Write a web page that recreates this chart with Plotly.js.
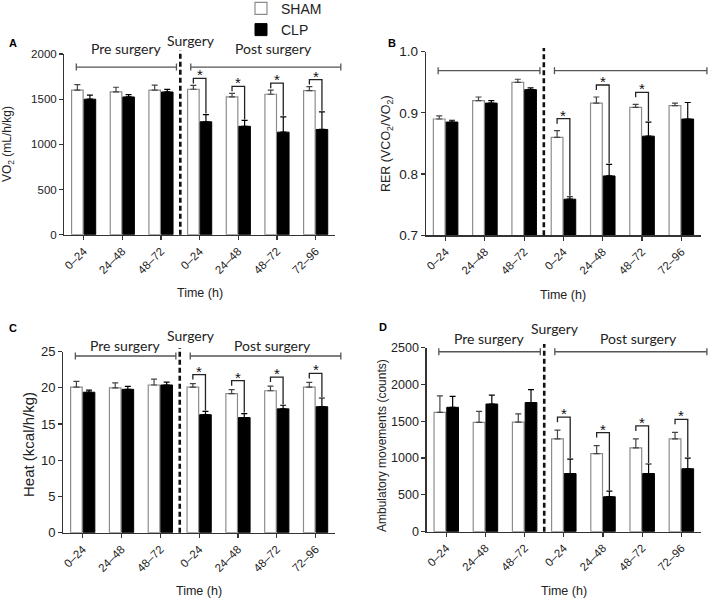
<!DOCTYPE html>
<html>
<head>
<meta charset="utf-8">
<script src="https://cdn.plot.ly/plotly-3.0.1.min.js"></script>
<style>
  html, body { margin: 0; padding: 0; background: #fff; }
  #fig { width: 709px; height: 599px; }
</style>
</head>
<body>
<div id="fig"></div>
<script>
// time windows (pre surgery x3, post surgery x4)
const groupIdx = [0, 1, 2, 3, 4, 5, 6];
const timeLabels = ['0–24', '24–48', '48–72', '0–24', '24–48', '48–72', '72–96'];
const preGroups = [0, 1, 2];
const postGroups = [3, 4, 5, 6];

// A: VO2 (mL/h/kg), mean and SEM
const vo2Sham = [1600, 1580, 1600, 1610, 1525, 1555, 1595];
const vo2ShamSem = [62, 52, 55, 42, 40, 45, 45];
const vo2Clp = [1500, 1525, 1580, 1250, 1200, 1135, 1165];
const vo2ClpSem = [45, 25, 28, 80, 65, 170, 195];
const vo2Sig = [3, 4, 5, 6];

// B: RER
const rerSham = [0.890, 0.920, 0.950, 0.860, 0.916, 0.909, 0.912];
const rerShamSem = [0.005, 0.006, 0.005, 0.011, 0.010, 0.005, 0.004];
const rerClp = [0.885, 0.916, 0.938, 0.759, 0.797, 0.862, 0.890];
const rerClpSem = [0.003, 0.004, 0.003, 0.004, 0.019, 0.023, 0.027];
const rerSig = [3, 4, 5];

// C: heat (kcal/h/kg)
const heatSham = [20.1, 20.0, 20.4, 20.1, 19.2, 19.6, 20.1];
const heatShamSem = [0.8, 0.7, 0.8, 0.5, 0.55, 0.65, 0.65];
const heatClp = [19.4, 19.8, 20.4, 16.3, 15.9, 17.1, 17.4];
const heatClpSem = [0.3, 0.4, 0.4, 0.45, 0.55, 0.5, 1.2];
const heatSig = [3, 4, 5, 6];

// D: ambulatory movements (counts)
const ambSham = [1620, 1485, 1490, 1260, 1060, 1140, 1260];
const ambShamSem = [225, 150, 110, 120, 110, 120, 90];
const ambClp = [1690, 1735, 1755, 790, 475, 790, 855];
const ambClpSem = [150, 120, 175, 195, 75, 130, 145];
const ambSig = [3, 4, 5, 6];

const W = 709, H = 599;
const FONT = 'Arial, Liberation Sans, sans-serif';
const BARGAP = 0.35;

const panels = [
  { letter: 'A', sham: vo2Sham, shamSem: vo2ShamSem, clp: vo2Clp, clpSem: vo2ClpSem, sig: vo2Sig,
    xdom: [0.0907, 0.4725], ydom: [0.6082, 0.9098], yrange: [0, 2000], dtick: 500, tickfmt: '',
    ytickSize: 11.5, title: 'VO<sub>2</sub> (mL/h/kg)', titleSize: 12, titleX: 8, titleY: 144,
    timeY: 293, letterXY: [13, 43], periodY: 0.928, periodText: true, preTextY: 1.028, surgTextY: 1.077,
    sigPad: 7 },
  { letter: 'B', sham: rerSham, shamSem: rerShamSem, clp: rerClp, clpSem: rerClpSem, sig: rerSig,
    xdom: [0.6008, 0.9887], ydom: [0.6072, 0.9137], yrange: [0.7, 1.0], dtick: 0.1, tickfmt: '.1f',
    ytickSize: 13.5, title: 'RER (VCO<sub>2</sub>/VO<sub>2</sub>)', titleSize: 12.5, titleX: 387, titleY: 144,
    timeY: 295, letterXY: [392, 43], periodY: 0.8965, periodText: false,
    sigPad: 12 },
  { letter: 'C', sham: heatSham, shamSem: heatShamSem, clp: heatClp, clpSem: heatClpSem, sig: heatSig,
    xdom: [0.0893, 0.4725], ydom: [0.1107, 0.4129], yrange: [0, 25], dtick: 5, tickfmt: '',
    ytickSize: 13, title: 'Heat (kcal/h/kg)', titleSize: 15, titleX: 28, titleY: 445,
    timeY: 591, letterXY: [13, 328], periodY: 0.976, periodText: true, preTextY: 1.033, surgTextY: 1.088,
    sigPad: 9 },
  { letter: 'D', sham: ambSham, shamSem: ambShamSem, clp: ambClp, clpSem: ambClpSem, sig: ambSig,
    xdom: [0.6018, 0.9887], ydom: [0.1124, 0.4195], yrange: [0, 2500], dtick: 500, tickfmt: '',
    ytickSize: 12.5, title: 'Ambulatory movements (counts)', titleSize: 12, titleX: 382, titleY: 446,
    timeY: 591, letterXY: [383, 327], periodY: 0.978, periodText: true, preTextY: 1.051, surgTextY: 1.105,
    sigPad: 13 }
];

const traces = [];
const shapes = [];
const annotations = [];
const layout = {
  width: W, height: H,
  margin: { l: 0, r: 0, t: 0, b: 0, autoexpand: false },
  paper_bgcolor: '#fff', plot_bgcolor: 'rgba(0,0,0,0)',
  barmode: 'group', bargap: BARGAP, bargroupgap: 0.08,
  font: { family: FONT, color: '#222' },
  showlegend: true,
  legend: {
    x: 241 / W, y: 1.012, xanchor: 'left', yanchor: 'top',
    font: { family: FONT, size: 14, color: '#222' },
    bgcolor: 'rgba(0,0,0,0)', tracegroupgap: 0
  }
};

const nGroups = groupIdx.length;
const toDomX = c => (c + 0.5) / nGroups;
const off = (1 - BARGAP) / 4;   // centre of each bar inside its group

panels.forEach((p, k) => {
  const n = k === 0 ? '' : String(k + 1);
  const xa = 'x' + n, ya = 'y' + n;
  const plotH = (p.ydom[1] - p.ydom[0]) * H;
  const d = px => px * (p.yrange[1] - p.yrange[0]) / plotH;   // px -> data units

  traces.push({
    type: 'bar', name: 'SHAM', x: groupIdx, y: p.sham, xaxis: xa, yaxis: ya,
    legendgroup: 'sham', showlegend: k === 0,
    marker: { color: '#ffffff', line: { color: '#8c8c8c', width: 1.2 } },
    error_y: { type: 'data', symmetric: false, array: p.shamSem, arrayminus: p.shamSem.map(() => 0),
               color: '#444', thickness: 1.2, width: 3 },
    hoverinfo: 'skip'
  });
  traces.push({
    type: 'bar', name: 'CLP', x: groupIdx, y: p.clp, xaxis: xa, yaxis: ya,
    legendgroup: 'clp', showlegend: k === 0,
    marker: { color: '#000000', line: { color: '#000000', width: 1 } },
    error_y: { type: 'data', symmetric: false, array: p.clpSem, arrayminus: p.clpSem.map(() => 0),
               color: '#000', thickness: 1.2, width: 3 },
    hoverinfo: 'skip'
  });

  layout['xaxis' + n] = {
    domain: p.xdom, anchor: ya, range: [-0.5, nGroups - 0.5], fixedrange: true,
    tickmode: 'array', tickvals: groupIdx, ticktext: timeLabels, tickangle: -45,
    tickfont: { family: FONT, size: 11.5, color: '#222' },
    ticks: 'outside', ticklen: 4, tickwidth: 1.2, tickcolor: '#333',
    showline: true, linecolor: '#333', linewidth: 1.3, showgrid: false, zeroline: false
  };
  layout['yaxis' + n] = {
    domain: p.ydom, anchor: xa, range: p.yrange, dtick: p.dtick, tick0: p.yrange[0], fixedrange: true,
    tickformat: p.tickfmt, tickfont: { family: FONT, size: p.ytickSize, color: '#222' },
    ticks: 'outside', ticklen: 4, tickwidth: 1.2, tickcolor: '#333',
    showline: true, linecolor: '#333', linewidth: 1.3, showgrid: false, zeroline: false
  };

  // surgery divider between the last pre and first post window
  const cut = (preGroups[preGroups.length - 1] + postGroups[0]) / 2;
  shapes.push({ type: 'line', xref: xa, yref: ya + ' domain', x0: cut, x1: cut, y0: 0, y1: 1.02,
                line: { color: '#111', width: 2.6, dash: '5px,3px' } });

  // pre / post surgery span brackets
  const spans = [[preGroups[0] - 0.19, preGroups[preGroups.length - 1] + 0.4],
                 [postGroups[0] - 0.23, postGroups[postGroups.length - 1] + 0.65]];
  const cap = 3.5 / plotH;
  spans.forEach(([a, b]) => {
    const style = { color: '#555', width: 1.3 };
    shapes.push({ type: 'line', xref: xa + ' domain', yref: ya + ' domain',
                  x0: toDomX(a), x1: toDomX(b), y0: p.periodY, y1: p.periodY, line: style });
    [a, b].forEach(c => shapes.push({ type: 'line', xref: xa + ' domain', yref: ya + ' domain',
                  x0: toDomX(c), x1: toDomX(c), y0: p.periodY - cap, y1: p.periodY + cap, line: style }));
  });

  if (p.periodText) {
    const txt = { family: 'Lato, Open Sans, sans-serif', size: 14, color: '#222' };
    annotations.push({ text: 'Pre surgery', xref: xa, yref: ya + ' domain', x: 1.1, y: p.preTextY,
                       showarrow: false, font: txt, yanchor: 'middle' });
    annotations.push({ text: 'Surgery', xref: xa, yref: ya + ' domain', x: 2.78, y: p.surgTextY,
                       showarrow: false, font: txt, yanchor: 'middle' });
    annotations.push({ text: 'Post surgery', xref: xa, yref: ya + ' domain', x: 4.9, y: p.preTextY,
                       showarrow: false, font: txt, yanchor: 'middle' });
  }

  // significance brackets SHAM vs CLP
  p.sig.forEach(i => {
    const shamTop = p.sham[i] + p.shamSem[i];
    const clpTop = p.clp[i] + p.clpSem[i];
    const top = Math.max(shamTop, clpTop) + d(p.sigPad);
    shapes.push({ type: 'path', xref: xa, yref: ya,
      path: `M${i - off},${top - d(5)} V${top} H${i + off} V${clpTop + d(1)}`,
      line: { color: '#222', width: 1.3 } });
    annotations.push({ text: '*', xref: xa, yref: ya, x: i, y: top, yanchor: 'bottom', yshift: -7,
                       showarrow: false, font: { family: FONT, size: 15, color: '#111' } });
  });

  // axis titles and panel letter
  annotations.push({ text: p.title, xref: 'paper', yref: 'paper', x: p.titleX / W, y: 1 - p.titleY / H,
                     textangle: -90, showarrow: false, xanchor: 'center', yanchor: 'middle',
                     font: { family: FONT, size: p.titleSize, color: '#222' } });
  annotations.push({ text: 'Time (h)', xref: xa + ' domain', yref: 'paper', x: 0.5, y: 1 - p.timeY / H,
                     showarrow: false, yanchor: 'middle', font: { family: FONT, size: 12.5, color: '#222' } });
  annotations.push({ text: '<b>' + p.letter + '</b>', xref: 'paper', yref: 'paper',
                     x: p.letterXY[0] / W, y: 1 - p.letterXY[1] / H, showarrow: false,
                     xanchor: 'center', yanchor: 'middle', font: { family: FONT, size: 11, color: '#000' } });
});

layout.shapes = shapes;
layout.annotations = annotations;

Plotly.newPlot('fig', traces, layout, { displayModeBar: false, staticPlot: true });
</script>
</body>
</html>
